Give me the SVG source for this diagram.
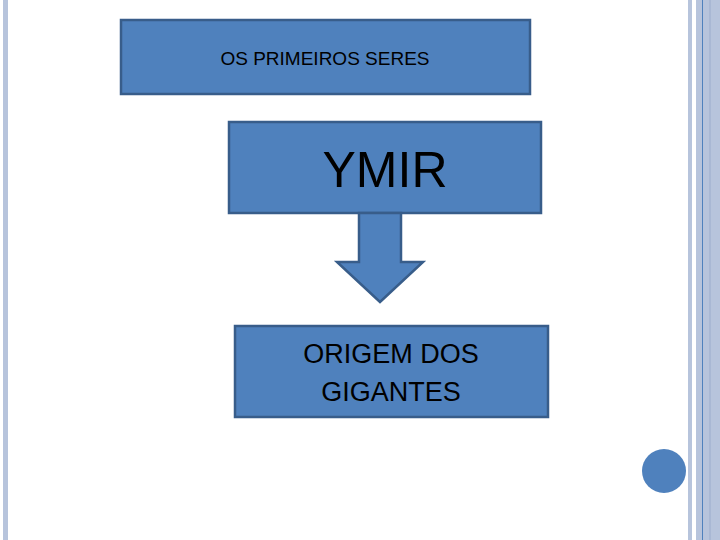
<svg xmlns="http://www.w3.org/2000/svg" width="720" height="540" viewBox="0 0 720 540">
<style>
.box{fill:#4f81bd;stroke:#385d8a;stroke-width:2.5}
.t{font-family:"Liberation Sans",Arial,sans-serif;fill:#000;text-anchor:middle}
</style>
<rect width="720" height="540" fill="#fff"/>
<g id="frame">
<rect x="3" y="0" width="5" height="540" fill="#b7c4dc"/>
<rect x="688" y="0" width="4" height="540" fill="#b7c4dc"/>
<rect x="696" y="0" width="24" height="540" fill="#b7c4dc"/>
<rect x="702" y="0" width="1" height="540" fill="#4f81bd"/>
<rect x="709" y="0" width="2" height="540" fill="#a9b8d4"/>
<circle cx="664" cy="471" r="22" fill="#4f81bd"/>
</g>
<g id="n1"><rect class="box" x="121" y="20" width="409" height="74"/><text class="t" x="325" y="65" font-size="19">OS PRIMEIROS SERES</text></g>
<g id="n2"><rect class="box" x="229" y="122" width="312" height="91"/><text class="t" x="385" y="187" font-size="50">YMIR</text></g>
<g id="connectors"><polygon class="box" points="359,213 401,213 401,262 423,262 380,302 337,262 359,262"/></g>
<g id="n3"><rect class="box" x="235" y="326" width="313" height="91"/><text class="t" x="391" y="363" font-size="27">ORIGEM DOS</text><text class="t" x="391" y="401" font-size="27">GIGANTES</text></g>
</svg>
